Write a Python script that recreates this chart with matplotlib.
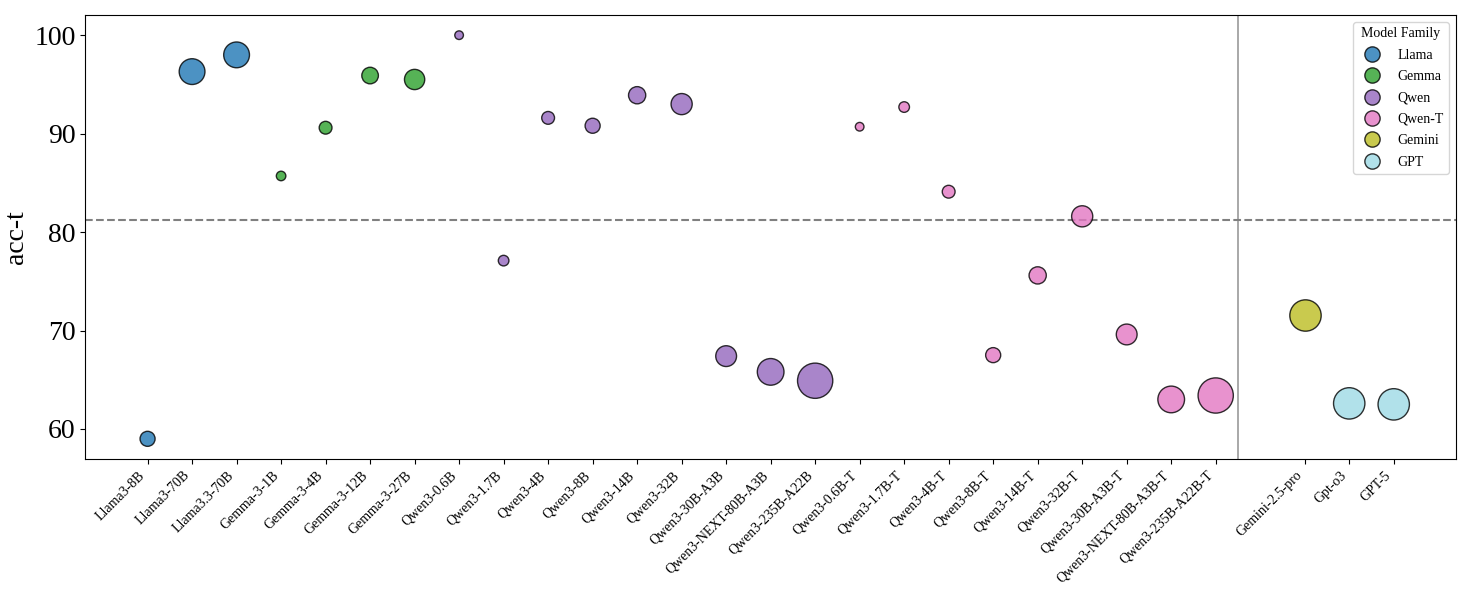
import matplotlib.pyplot as plt
from matplotlib.lines import Line2D
import numpy as np

plt.rcParams['font.family'] = ['Liberation Serif', 'DejaVu Serif']

# Models, their family, accuracy and parameter count (billions; None = closed model)
models = ['Llama3-8B', 'Llama3-70B', 'Llama3.3-70B',
          'Gemma-3-1B', 'Gemma-3-4B', 'Gemma-3-12B', 'Gemma-3-27B',
          'Qwen3-0.6B', 'Qwen3-1.7B', 'Qwen3-4B', 'Qwen3-8B', 'Qwen3-14B', 'Qwen3-32B',
          'Qwen3-30B-A3B', 'Qwen3-NEXT-80B-A3B', 'Qwen3-235B-A22B',
          'Qwen3-0.6B-T', 'Qwen3-1.7B-T', 'Qwen3-4B-T', 'Qwen3-8B-T', 'Qwen3-14B-T',
          'Qwen3-32B-T', 'Qwen3-30B-A3B-T', 'Qwen3-NEXT-80B-A3B-T', 'Qwen3-235B-A22B-T',
          'Gemini-2.5-pro', 'Gpt-o3', 'GPT-5']
families = ['Llama'] * 3 + ['Gemma'] * 4 + ['Qwen'] * 9 + ['Qwen-T'] * 9 + ['Gemini'] + ['GPT'] * 2
acc_t = [59.0, 96.3, 98.0,
         85.7, 90.6, 95.9, 95.5,
         100.0, 77.1, 91.6, 90.8, 93.9, 93.0, 67.4, 65.8, 64.9,
         90.7, 92.7, 84.1, 67.5, 75.6, 81.6, 69.6, 63.0, 63.4,
         71.6, 62.6, 62.5]
params_b = [8, 70, 70,
            1, 4, 12, 27,
            0.6, 1.7, 4, 8, 14, 32, 30, 80, 235,
            0.6, 1.7, 4, 8, 14, 32, 30, 80, 235,
            None, None, None]
baseline = 81.25

family_order = ['Llama', 'Gemma', 'Qwen', 'Qwen-T', 'Gemini', 'GPT']
family_colors = {'Llama': '#1f77b4', 'Gemma': '#2ca02c', 'Qwen': '#9467bd',
                 'Qwen-T': '#e377c2', 'Gemini': '#bcbd22', 'GPT': '#9edae5'}

# open models on 0..24, closed models after a one-slot gap
n_open = sum(p is not None for p in params_b)
xpos = [i if i < n_open else i + 1 for i in range(len(models))]


def bubble_size(p):
    if p is None:
        return 510
    return 12 + 35 * p ** 0.53


fig, ax = plt.subplots(figsize=(14.7, 6), dpi=100)

for fam in family_order:
    idx = [i for i, f in enumerate(families) if f == fam]
    ax.scatter([xpos[i] for i in idx], [acc_t[i] for i in idx],
               s=[bubble_size(params_b[i]) for i in idx],
               color=family_colors[fam], alpha=0.8, edgecolors='black',
               linewidths=1, zorder=3)

ax.axhline(baseline, color='gray', linestyle='--', linewidth=1.5, zorder=1)
ax.axvline(n_open - 0.5, color='gray', linestyle='-', linewidth=1.2, alpha=0.8, zorder=1)

ax.set_xticks(xpos)
ax.set_xticklabels(models, rotation=45, ha='right', fontsize=10)
ax.tick_params(axis='y', labelsize=20)
ax.set_ylabel('acc-t', fontsize=20)

handles = [Line2D([0], [0], marker='o', linestyle='', markersize=11,
                  markerfacecolor=family_colors[f], markeredgecolor='black',
                  alpha=0.8, label=f) for f in family_order]
ax.legend(handles=handles, title='Model Family', loc='upper right',
          fontsize=10, title_fontsize=10, labelspacing=0.6)

plt.subplots_adjust(left=0.058, right=0.9905, top=0.975, bottom=0.235)
plt.savefig('out.png')
